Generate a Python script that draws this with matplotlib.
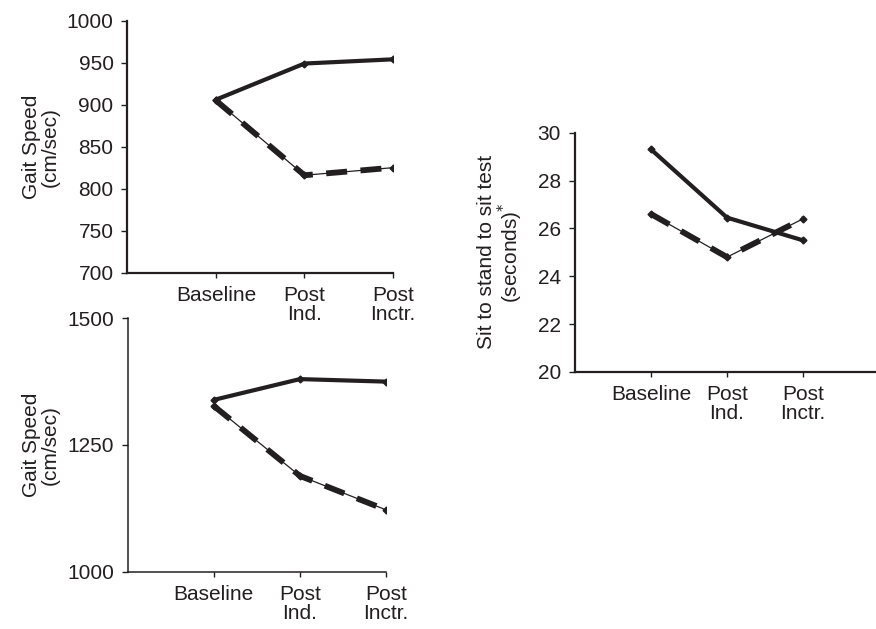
import matplotlib
matplotlib.use("Agg")
import matplotlib.pyplot as plt

plt.rcParams["font.family"] = ["Liberation Sans", "DejaVu Sans"]

INK = "#231f20"

# --- data ---
phases = ["Baseline", "Post\nInd.", "Post\nInctr."]

gait_top_solid = [906, 949, 954]
gait_top_dashed = [905, 816, 825]

gait_bot_solid = [1339, 1380, 1375]
gait_bot_dashed = [1327, 1189, 1122]

sts_solid = [29.3, 26.45, 25.5]
sts_dashed = [26.6, 24.8, 26.4]

FS = 15


def draw_pair(ax, solid, dashed):
    x = list(range(1, len(phases) + 1))
    ax.plot(x, solid, color=INK, lw=3.0, solid_capstyle="round",
            marker="D", ms=3.5, zorder=3)
    # dashed series: thin solid line under thick dashes
    ax.plot(x, dashed, color=INK, lw=0.9, zorder=2)
    ax.plot(x, dashed, color=INK, lw=4.2, dashes=(3.6, 2.3),
            marker="D", ms=3.5, zorder=3)


def style(ax, yticks, ylabel, xmax, label_x, spine_w=1.6):
    ax.set_facecolor("none")
    ax.set_xlim(0, xmax)
    ax.set_ylim(yticks[0], yticks[-1])
    ax.set_yticks(yticks)
    ax.set_xticks(range(1, len(phases) + 1))
    ax.set_xticklabels(phases, linespacing=1.0)
    for s in ("top", "right"):
        ax.spines[s].set_visible(False)
    for s in ("left", "bottom"):
        ax.spines[s].set_linewidth(spine_w)
        ax.spines[s].set_color(INK)
    ax.tick_params(axis="y", direction="out", length=4, width=1,
                   labelsize=FS, pad=6, colors=INK)
    ax.tick_params(axis="x", direction="out", length=3.5, width=1,
                   labelsize=FS, pad=6, colors=INK)
    ax.set_ylabel(ylabel, fontsize=FS, color=INK, linespacing=1.0)
    ax.yaxis.set_label_coords(label_x, 0.5)


fig = plt.figure(figsize=(8.76, 6.29), dpi=100)

ax2 = fig.add_axes([0.1458, 0.0911, 0.2949, 0.4029])
draw_pair(ax2, gait_bot_solid, gait_bot_dashed)
style(ax2, [1000, 1250, 1500], "Gait Speed\n(cm/sec)", 3, -0.262, spine_w=1.1)

ax1 = fig.add_axes([0.1455, 0.5665, 0.303, 0.4006])
draw_pair(ax1, gait_top_solid, gait_top_dashed)
style(ax1, [700, 750, 800, 850, 900, 950, 1000], "Gait Speed\n(cm/sec)", 3, -0.254)

ax3 = fig.add_axes([0.6564, 0.4086, 0.3436, 0.3805])
draw_pair(ax3, sts_solid, sts_dashed)
style(ax3, [20, 22, 24, 26, 28, 30], "Sit to stand to sit test\n(seconds)$^{*}$",
      3.96, -0.166)

fig.savefig("out.png", dpi=100, facecolor="white")
